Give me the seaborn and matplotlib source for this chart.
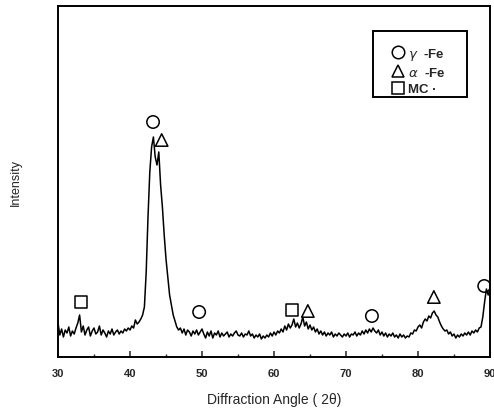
import numpy as np
import pandas as pd
import matplotlib
matplotlib.use("Agg")
import matplotlib.pyplot as plt
from matplotlib.lines import Line2D
from matplotlib.patches import Rectangle
from matplotlib.ticker import MultipleLocator
import seaborn as sns

# XRD scan: 30-90 deg, 0.25 deg step, intensity (arb. units)
scan_start = 30.0
scan_step = 0.25
intensity = [
    34, 22, 28, 20, 27, 24, 30, 21, 26, 23, 29, 34, 42, 25, 31, 22,   # 30.00-33.75
    27, 30, 21, 26, 29, 23, 25, 31, 22, 27, 24, 20, 26, 23, 28, 22,   # 34.00-37.75
    25, 27, 23, 26, 24, 28, 26, 29, 27, 31, 29, 37, 33, 35, 38, 42,   # 38.00-41.75
    50, 85, 140, 185, 210, 220, 200, 192, 205, 172, 150, 122, 98, 80, 62, 52,  # 42.00-45.75
    42, 36, 30, 27, 29, 24, 28, 22, 27, 25, 21, 26, 23, 27, 22, 25,   # 46.00-49.75
    28, 23, 19, 25, 21, 26, 19, 24, 22, 26, 20, 24, 21, 23, 25, 20,   # 50.00-53.75
    23, 21, 24, 26, 22, 21, 24, 20, 23, 22, 26, 21, 23, 19, 22, 20,   # 54.00-57.75
    23, 18, 21, 19, 22, 20, 24, 21, 25, 22, 26, 24, 28, 25, 31, 27,   # 58.00-61.75
    33, 29, 32, 38, 30, 34, 29, 33, 40, 31, 35, 28, 32, 27, 30, 25,   # 62.00-65.75
    28, 23, 26, 22, 25, 21, 24, 22, 25, 20, 23, 21, 24, 22, 20, 23,   # 66.00-69.75
    21, 24, 20, 23, 22, 25, 21, 24, 22, 26, 23, 27, 24, 28, 25, 29,   # 70.00-73.75
    26, 24, 27, 22, 25, 21, 24, 20, 23, 21, 24, 20, 22, 19, 23, 20,   # 74.00-77.75
    22, 19, 21, 20, 24, 23, 27, 26, 30, 32, 29, 35, 38, 36, 41, 39,   # 78.00-81.75
    44, 46, 42, 40, 35, 31, 28, 26, 27, 23, 25, 21, 23, 19, 22, 20,   # 82.00-85.75
    23, 21, 24, 22, 25, 22, 26, 24, 27, 25, 29, 30, 40, 55, 68, 62,   # 86.00-89.75
    68,                                                              # 90.00
]
two_theta = scan_start + scan_step * np.arange(len(intensity))

# Phase markers (2theta, height)
gamma_x = [43.2, 49.6, 73.6, 89.2]
gamma_y = [235, 45, 41, 71]
alpha_x = [44.4, 64.7, 82.2]
alpha_y = [217, 46, 60]
mc_x = [33.2, 62.5]
mc_y = [55, 47]

xticks = [30, 40, 50, 60, 70, 80, 90]

sns.set_style("ticks")
plt.rcParams['font.family'] = ['Liberation Sans', 'DejaVu Sans']

fig = plt.figure(figsize=(4.94, 4.10), dpi=100)
ax = fig.add_axes([58 / 494, 52 / 410, 432 / 494, 351 / 410])

df = pd.DataFrame({"two_theta": two_theta, "intensity": intensity})
sns.lineplot(data=df, x="two_theta", y="intensity", ax=ax, color="black",
             linewidth=1.1)

mk = dict(facecolors="none", edgecolors="black", linewidths=1.1, s=80, zorder=5)
sns.scatterplot(x=gamma_x, y=gamma_y, marker="o", ax=ax, **mk)
sns.scatterplot(x=alpha_x, y=alpha_y, marker="^", ax=ax, **mk)
sns.scatterplot(x=mc_x, y=mc_y, marker="s", ax=ax, **mk)

ax.set_xlim(30, 90)
ax.set_ylim(0, 351)
ax.set_xticks(xticks)
ax.set_xticklabels([str(t) for t in xticks], fontweight="bold", fontsize=8)
ax.xaxis.set_minor_locator(MultipleLocator(5))
ax.tick_params(axis="x", which="major", direction="in", length=4, width=1.1, pad=8)
ax.tick_params(axis="x", which="minor", direction="in", length=2, width=1)
ax.set_yticks([])
for sp in ax.spines.values():
    sp.set_linewidth(1.4)
    sp.set_color("black")

ax.set_xlabel("Diffraction Angle ( 2θ)", fontsize=10, labelpad=10)
ax.set_ylabel("Intensity", fontsize=9, labelpad=26)

# legend frame
ax.add_patch(Rectangle(((373 - 58) / 432, (358 - 98) / 351), 94 / 432, 66 / 351,
                       transform=ax.transAxes, fill=True, facecolor="white",
                       edgecolor="black", linewidth=1.4, zorder=6))

handles = [
    Line2D([], [], marker="o", ls="none", mfc="none", mec="black", ms=9, mew=1.1),
    Line2D([], [], marker="^", ls="none", mfc="none", mec="black", ms=8, mew=1.1),
    Line2D([], [], marker="s", ls="none", mfc="none", mec="black", ms=9, mew=1.1),
]
labels = [r"$\gamma$  -Fe", r"$\alpha$  -Fe", "MC ·"]
leg = ax.legend(handles, labels, loc="upper left",
                bbox_to_anchor=((391 - 58) / 432, (358 - 47) / 351),
                frameon=False, prop={"weight": "bold", "size": 9.5},
                handletextpad=0.3, handlelength=1.0, labelspacing=0.3,
                borderpad=0, borderaxespad=0)
leg.set_zorder(7)

fig.savefig("out.png", dpi=100)
